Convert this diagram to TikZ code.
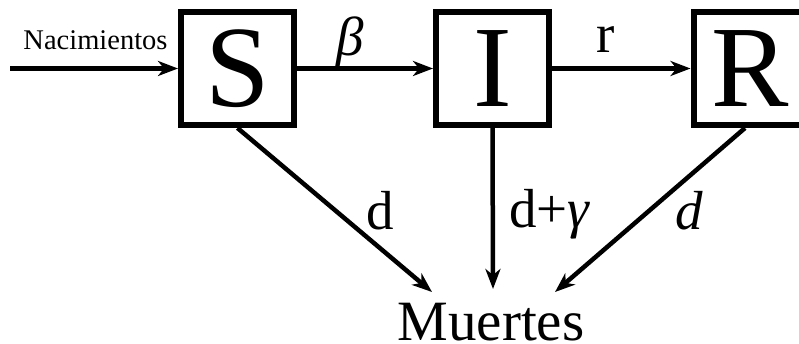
\documentclass[tikz,border=0pt]{standalone}
\usepackage{fontspec}
\setmainfont{Liberation Serif}
\usetikzlibrary{arrows.meta,calc}
\begin{document}
\begin{tikzpicture}[x=1pt,y=1pt,>={Stealth[length=20pt,width=15pt,inset=6pt]},line width=4.5pt,
 comp/.style={draw,line width=6pt,minimum size=113pt,inner sep=0pt,font=\fontsize{116}{116}\selectfont},
 lbl/.style={font=\fontsize{55}{55}\selectfont,anchor=base,inner sep=0pt}]
\useasboundingbox(0,0)rectangle(799,344);
\node[comp](s)at(237.5,275.5){S};\node[comp](i)at(492.5,275.5){I};\node[comp](r)at(750,275.5){R};
\node[font=\fontsize{57}{57}\selectfont,anchor=base,inner sep=0pt](m)at(491,3){Muertes};
\coordinate(nac)at(10,275.5);
\coordinate(ms)at(432,52);\coordinate(mi)at(493,55);\coordinate(mr)at(555,52);
\draw[->](nac)--(s);\draw[->](s)--(i);\draw[->](i)--(r);
\draw[->](s.south)--(ms);\draw[->](i.south)--(mi);\draw[->]([xshift=-5pt]r.south)--(mr);
\node[font=\fontsize{28.5}{28.5}\selectfont,anchor=base,inner sep=0pt](nt)at(95.5,294){Nacimientos};
\node[lbl](b)at(350,288){\textit{β}};\node[lbl](rt)at(606,291){r};
\node[lbl](ds)at(380,114){d};\node[lbl](di)at(550,116){d+\textit{γ}};\node[lbl](dr)at(689,114){\textit{d}};
\end{tikzpicture}
\end{document}
